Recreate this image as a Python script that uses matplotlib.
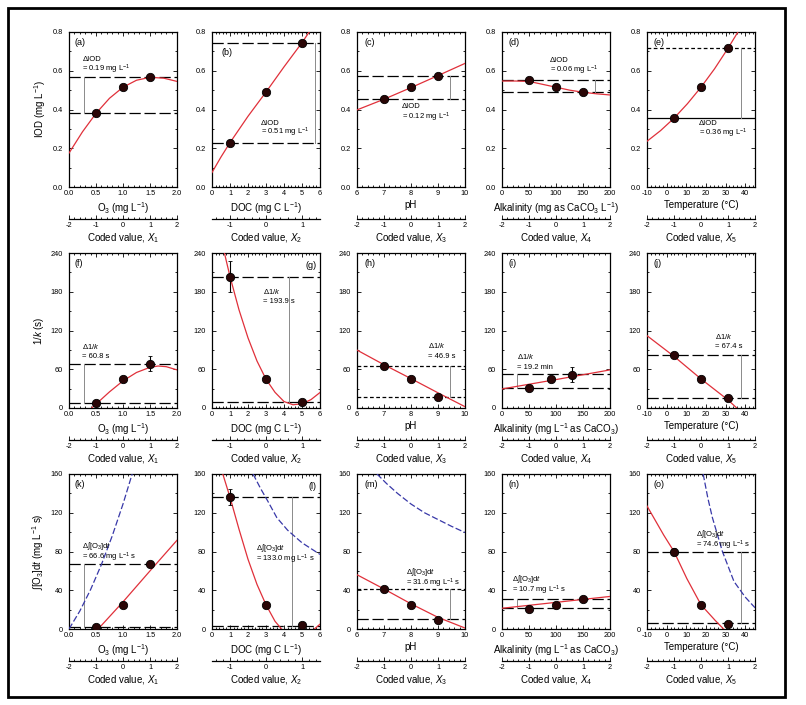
import matplotlib
matplotlib.use('Agg')
import matplotlib.pyplot as plt
from matplotlib.ticker import AutoMinorLocator, MultipleLocator
from matplotlib.patches import Rectangle

plt.rcParams['font.family'] = ['Liberation Sans', 'DejaVu Sans']
plt.rcParams['mathtext.fontset'] = 'custom'
plt.rcParams['mathtext.rm'] = 'Liberation Sans'
plt.rcParams['mathtext.it'] = 'Liberation Sans:italic'
plt.rcParams['mathtext.bf'] = 'Liberation Sans:bold'

# ---------------- data ----------------
O3_levels = [0.5, 1.0, 1.5]
DOC_levels = [1, 3, 5]
pH_levels = [7, 8, 9]
alk_levels = [50, 100, 150]
alk_levels_i = [50, 90, 130]
temp_levels = [3.75, 17.5, 31.25]

# Row 1: IOD (mg/L)
iod_a = [0.38, 0.515, 0.566]
iod_b = [0.229, 0.49, 0.745]
iod_c = [0.453, 0.515, 0.575]
iod_d = [0.55, 0.515, 0.489]
iod_e = [0.355, 0.515, 0.716]

# Row 2: 1/k (s)
ik_f = [7.7, 44.6, 68.7]
ik_f_err = [1.5, 2, 11.5]
ik_g = [203.6, 44.6, 9.7]
ik_g_err = [24, 2, 2]
ik_h = [65, 44.6, 17.4]
ik_i = [30.6, 44.5, 51.2]
ik_i_err = [3, 2, 11.6]
ik_j = [82, 44.6, 15.4]

# Row 3: integral [O3]dt (mg L-1 s)
ct_k = [2.4, 25, 67]
ct_l = [136.4, 25, 4.2]
ct_l_err = [8, 0, 0]
ct_m = [41.3, 25.2, 9.4]
ct_n = [20.4, 24.6, 31]
ct_o = [80, 25, 5.2]
ct_o_err = [4, 0, 0]

# fitted model curves
fit_a_x = [0, 0.25, 0.5, 0.75, 1.0, 1.25, 1.5, 1.75, 2.0]
fit_a_y = [0.175, 0.285, 0.38, 0.458, 0.515, 0.551, 0.566, 0.562, 0.545]
fit_b_x = [0, 0.5, 1, 2, 3, 4, 5, 5.4]
fit_b_y = [0.075, 0.155, 0.229, 0.365, 0.49, 0.62, 0.745, 0.8]
fit_c_x = [6, 7, 8, 9, 10]
fit_c_y = [0.398, 0.453, 0.513, 0.575, 0.638]
fit_d_x = [0, 25, 50, 75, 100, 125, 150, 175, 200]
fit_d_y = [0.547, 0.547, 0.545, 0.53, 0.515, 0.50, 0.489, 0.481, 0.475]
fit_e_x = [-10, -3.1, 3.75, 10.6, 17.5, 24.4, 31.25, 36.3]
fit_e_y = [0.236, 0.291, 0.355, 0.43, 0.515, 0.61, 0.716, 0.8]

fit_f_x = [0.42, 0.5, 0.75, 1.0, 1.25, 1.5, 1.65, 1.8, 2.0]
fit_f_y = [0, 6, 25, 42, 55, 63, 65, 64, 59]
fit_g_x = [0.69, 1, 1.5, 2, 2.5, 3, 3.5, 4, 4.5, 5, 5.5, 6]
fit_g_y = [240, 203.6, 152, 108.6, 72.7, 44.6, 24.3, 10, 5, 6.5, 13, 24]
fit_h_x = [6, 7, 8, 9, 10]
fit_h_y = [89.7, 67, 45.5, 23.5, 2]
fit_i_x = [0, 100, 200]
fit_i_y = [29.5, 44, 59]
fit_j_x = [-10, 3.75, 17.5, 31.25, 35.7]
fit_j_y = [112, 80, 45, 12.5, 0]

fit_k_x = [0.54, 1.0, 1.5, 2.0]
fit_k_y = [0, 28, 60, 91.6]
fit_l_x = [0.6, 1, 1.5, 2, 2.5, 3, 3.5, 4, 4.5, 5, 5.5, 6]
fit_l_y = [160, 136, 103, 72, 46, 25, 8, -3, -8, -8, -3, 5]
fit_m_x = [6, 7, 8, 9, 10]
fit_m_y = [56, 41.3, 26, 12, 1]
fit_n_x = [0, 100, 200]
fit_n_y = [21.4, 27.5, 33.6]
fit_o_x = [-10, -1.5, 3.75, 10.3, 17.5, 24.8, 29, 31]
fit_o_y = [127, 97, 80, 52, 25, 8.7, 0, -4]

# second (blue dashed) curves in bottom row
blue_k_x = [0, 0.2, 0.4, 0.6, 0.8, 1.0, 1.17]
blue_k_y = [0, 18.5, 40.7, 66.5, 96, 129, 160]
blue_l_x = [2.28, 2.7, 3.1, 3.6, 4.2, 5.0, 6.0]
blue_l_y = [160, 145, 132, 115, 102, 89, 77]
blue_m_x = [6.74, 7.1, 7.5, 8, 8.5, 9, 9.5, 10]
blue_m_y = [160, 150, 140, 129, 120, 113, 106, 99.6]
blue_o_x = [18.6, 21, 23.3, 28.4, 34.3, 40, 44.2, 45]
blue_o_y = [160, 135, 115, 80, 49, 33, 23.7, 22]

# reference (max / min) levels
ref_lines = {
    'a': (0.566, 0.38), 'b': (0.745, 0.229), 'c': (0.575, 0.453), 'd': (0.55, 0.489), 'e': (0.716, 0.355),
    'f': (68.7, 7.7), 'g': (203.6, 9.7), 'h': (65, 17.4), 'i': (52.3, 30.6), 'j': (82, 15.4),
    'k': (67, 2.4), 'l': (136.4, 3.5), 'm': (41.3, 10.5), 'n': (31, 21.4), 'o': (80, 5.9),
}
delta_texts = {
    'a': '= 0.19 mg L$^{-1}$', 'b': '= 0.51 mg L$^{-1}$', 'c': '= 0.12 mg L$^{-1}$',
    'd': '= 0.06 mg L$^{-1}$', 'e': '= 0.36 mg L$^{-1}$',
    'f': '= 60.8 s', 'g': '= 193.9 s', 'h': '= 46.9 s', 'i': '= 19.2 min', 'j': '= 67.4 s',
    'k': '= 66.6 mg L$^{-1}$ s', 'l': '= 133.0 mg L$^{-1}$ s', 'm': '= 31.6 mg L$^{-1}$ s',
    'n': '= 10.7 mg L$^{-1}$ s', 'o': '= 74.6 mg L$^{-1}$ s',
}

# ---------------- layout ----------------
W, H = 806, 705
fig = plt.figure(figsize=(W / 100, H / 100), dpi=100)
lefts = [69, 212, 357, 502, 647]
tops = [32, 253, 474]
PW, PH = 108, 155

RED = '#e0303a'
BLUE = '#3838a8'
MFC = '#2a0606'
GRAY = '#8a8a8a'
DASH = (0, (9, 3))
FINE = (0, (3, 2))

col_info = [
    dict(xlim=(0, 2), xt=[0, 0.5, 1.0, 1.5, 2.0], fmt='{:.1f}', c=1.0, s=0.5,
         xl=['O$_3$ (mg L$^{-1}$)'] * 3, sub='1'),
    dict(xlim=(0, 6), xt=[0, 1, 2, 3, 4, 5, 6], fmt='{:d}', c=3, s=2,
         xl=['DOC (mg C L$^{-1}$)'] * 3, sub='2'),
    dict(xlim=(6, 10), xt=[6, 7, 8, 9, 10], fmt='{:d}', c=8, s=1,
         xl=['pH'] * 3, sub='3'),
    dict(xlim=(0, 200), xt=[0, 50, 100, 150, 200], fmt='{:d}', c=100, s=50,
         xl=['Alkalinity (mg as CaCO$_3$ L$^{-1}$)', 'Alkalinity (mg L$^{-1}$ as CaCO$_3$)',
             'Alkalinity (mg L$^{-1}$ as CaCO$_3$)'], sub='4'),
    dict(xlim=(-10, 45), xt=[-10, 0, 10, 20, 30, 40], fmt='{:d}', c=17.5, s=13.75,
         xl=['Temperature (°C)'] * 3, sub='5'),
]
row_info = [
    dict(ylim=(0, 0.8), yt=[0, 0.2, 0.4, 0.6, 0.8], fmt='{:.1f}', yl='IOD (mg L$^{-1}$)',
         dt='ΔIOD'),
    dict(ylim=(0, 240), yt=[0, 60, 120, 180, 240], fmt='{:d}', yl='1/$k$ (s)',
         dt='Δ1/$k$'),
    dict(ylim=(0, 160), yt=[0, 40, 80, 120, 160], fmt='{:d}', yl='∫[O$_3$]d$t$ (mg L$^{-1}$ s)',
         dt='Δ∫[O$_3$]d$t$'),
]

panels = [
    # row 0
    dict(k='a', r=0, c=0, x=O3_levels, y=iod_a, e=None, fx=fit_a_x, fy=fit_a_y, ls=(DASH, DASH),
         vx=0.28, tx=0.25, ty=(0.658, 0.607), lab=(0.05, 0.93)),
    dict(k='b', r=0, c=1, x=DOC_levels, y=iod_b, e=None, fx=fit_b_x, fy=fit_b_y, ls=(DASH, DASH),
         vx=5.72, tx=2.7, ty=(0.33, 0.28), lab=(0.09, 0.865)),
    dict(k='c', r=0, c=2, x=pH_levels, y=iod_c, e=None, fx=fit_c_x, fy=fit_c_y, ls=(DASH, DASH),
         vx=9.44, tx=7.65, ty=(0.415, 0.362), lab=(0.065, 0.93)),
    dict(k='d', r=0, c=3, x=alk_levels, y=iod_d, e=None, fx=fit_d_x, fy=fit_d_y, ls=(DASH, DASH),
         vx=172, tx=88, ty=(0.652, 0.6), lab=(0.06, 0.93)),
    dict(k='e', r=0, c=4, x=temp_levels, y=iod_e, e=None, fx=fit_e_x, fy=fit_e_y, ls=(FINE, '-'),
         vx=37.8, tx=16.6, ty=(0.33, 0.278), lab=(0.056, 0.93)),
    # row 1
    dict(k='f', r=1, c=0, x=O3_levels, y=ik_f, e=ik_f_err, fx=fit_f_x, fy=fit_f_y, ls=(DASH, DASH),
         vx=0.28, tx=0.25, ty=(95, 79), lab=(0.05, 0.93)),
    dict(k='g', r=1, c=1, x=DOC_levels, y=ik_g, e=ik_g_err, fx=fit_g_x, fy=fit_g_y, ls=(DASH, DASH),
         vx=4.29, tx=2.85, ty=(181, 165), lab=(0.97, 0.92), right=True),
    dict(k='h', r=1, c=2, x=pH_levels, y=ik_h, e=None, fx=fit_h_x, fy=fit_h_y, ls=(FINE, FINE),
         vx=9.44, tx=8.64, ty=(96, 80), lab=(0.065, 0.93)),
    dict(k='i', r=1, c=3, x=alk_levels_i, y=ik_i, e=ik_i_err, fx=fit_i_x, fy=fit_i_y, ls=(DASH, DASH),
         vx=28.6, tx=27, ty=(79, 63), lab=(0.06, 0.93)),
    dict(k='j', r=1, c=4, x=temp_levels, y=ik_j, e=None, fx=fit_j_x, fy=fit_j_y, ls=(DASH, DASH),
         vx=37.8, tx=24.8, ty=(110.5, 94.5), lab=(0.056, 0.93)),
    # row 2
    dict(k='k', r=2, c=0, x=O3_levels, y=ct_k, e=None, fx=fit_k_x, fy=fit_k_y, ls=(DASH, DASH),
         vx=0.28, tx=0.25, ty=(86, 74), lab=(0.05, 0.93), bx=blue_k_x, by=blue_k_y),
    dict(k='l', r=2, c=1, x=DOC_levels, y=ct_l, e=ct_l_err, fx=fit_l_x, fy=fit_l_y, ls=(DASH, DASH),
         vx=4.47, tx=2.47, ty=(84, 72), lab=(0.97, 0.92), right=True, bx=blue_l_x, by=blue_l_y),
    dict(k='m', r=2, c=2, x=pH_levels, y=ct_m, e=None, fx=fit_m_x, fy=fit_m_y, ls=(FINE, DASH),
         vx=9.44, tx=7.83, ty=(59, 47), lab=(0.065, 0.93), bx=blue_m_x, by=blue_m_y),
    dict(k='n', r=2, c=3, x=alk_levels, y=ct_n, e=None, fx=fit_n_x, fy=fit_n_y, ls=(DASH, DASH),
         vx=28.6, tx=18.3, ty=(52, 40), lab=(0.06, 0.93)),
    dict(k='o', r=2, c=4, x=temp_levels, y=ct_o, e=ct_o_err, fx=fit_o_x, fy=fit_o_y, ls=(DASH, DASH),
         vx=37.8, tx=14.7, ty=(98, 86), lab=(0.056, 0.93), bx=blue_o_x, by=blue_o_y),
]

TICK_FS = 5.3
LAB_FS = 7
ANN_FS = 5.5

for p in panels:
    ci = col_info[p['c']]
    ri = row_info[p['r']]
    left = lefts[p['c']]
    top = tops[p['r']]
    ax = fig.add_axes([left / W, 1 - (top + PH) / H, PW / W, PH / H])
    ax.set_xlim(*ci['xlim'])
    ax.set_ylim(*ri['ylim'])
    ax.set_xticks(ci['xt'])
    ax.set_xticklabels([ci['fmt'].format(v) for v in ci['xt']])
    ax.set_yticks(ri['yt'])
    ax.set_yticklabels([ri['fmt'].format(v) for v in ri['yt']])
    ax.xaxis.set_minor_locator(AutoMinorLocator(5))
    ax.yaxis.set_minor_locator(AutoMinorLocator(2))
    ax.tick_params(which='both', direction='in', top=True, right=True, labelsize=TICK_FS,
                   width=0.6)
    ax.tick_params(axis='x', which='both', pad=2.5)
    ax.tick_params(axis='y', which='both', pad=4.5)
    ax.tick_params(which='major', length=3)
    ax.tick_params(which='minor', length=1.5)
    for sp in ax.spines.values():
        sp.set_linewidth(0.9)
    ax.set_xlabel(ci['xl'][p['r']], fontsize=LAB_FS, labelpad=2)
    if p['c'] == 0:
        ax.set_ylabel(ri['yl'], fontsize=LAB_FS, labelpad=3)

    hi, lo = ref_lines[p['k']]
    ax.axhline(hi, color='k', lw=0.9, ls=p['ls'][0], zorder=2)
    ax.axhline(lo, color='k', lw=0.9, ls=p['ls'][1], zorder=2)
    ax.plot([p['vx'], p['vx']], [lo, hi], color=GRAY, lw=0.7, zorder=2)

    if 'bx' in p:
        ax.plot(p['bx'], p['by'], color=BLUE, lw=0.9, ls=(0, (5, 2)), zorder=3)
    ax.plot(p['fx'], p['fy'], color=RED, lw=0.9, zorder=3)
    ax.errorbar(p['x'], p['y'], yerr=p['e'], fmt='o', ms=6, mfc=MFC, mec='k', mew=0.6,
                ecolor='k', elinewidth=0.8, capsize=1.5, zorder=5)

    ax.text(p['tx'], p['ty'][0], ri['dt'], fontsize=ANN_FS, va='center', ha='left', zorder=6)
    ax.text(p['tx'], p['ty'][1], delta_texts[p['k']], fontsize=ANN_FS, va='center', ha='left', zorder=6)
    if p.get('right'):
        ax.text(p['lab'][0], p['lab'][1], '(%s)' % p['k'], transform=ax.transAxes,
                fontsize=6.5, ha='right', va='center')
    else:
        ax.text(p['lab'][0], p['lab'][1], '(%s)' % p['k'], transform=ax.transAxes,
                fontsize=6.5, ha='left', va='center')

    c0, s0 = ci['c'], ci['s']
    sec = ax.secondary_xaxis(-0.208, functions=(lambda x, c0=c0, s0=s0: (x - c0) / s0,
                                                 lambda v, c0=c0, s0=s0: v * s0 + c0))
    sec.set_xticks([-2, -1, 0, 1, 2])
    sec.set_xticklabels(['-2', '-1', '0', '1', '2'])
    sec.xaxis.set_minor_locator(MultipleLocator(0.2))
    sec.tick_params(which='both', direction='in', labelsize=TICK_FS, width=0.6, pad=2)
    sec.tick_params(which='major', length=3)
    sec.tick_params(which='minor', length=1.5)
    sec.spines['bottom'].set_linewidth(0.9)
    sec.set_xlabel('Coded value, $X_{%s}$' % ci['sub'], fontsize=LAB_FS, labelpad=2)

# outer frame
fig.add_artist(Rectangle((8 / W, 1 - 697 / H), (785 - 8) / W, (697 - 8) / H,
                         transform=fig.transFigure, fill=False, ec='k', lw=2))

fig.savefig('out.png', dpi=100)
